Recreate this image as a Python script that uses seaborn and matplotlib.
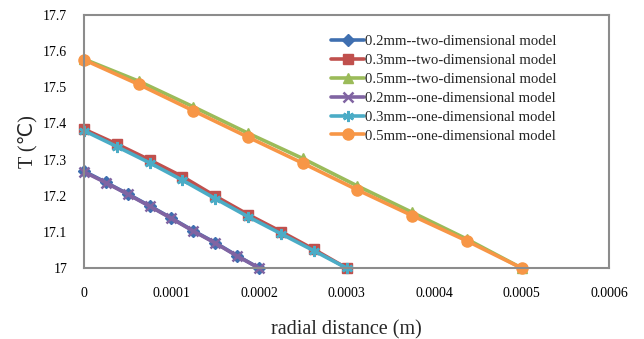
import numpy as np
import pandas as pd
import matplotlib
matplotlib.use("Agg")
import matplotlib.pyplot as plt
import seaborn as sns

sns.set_theme(style="white")
plt.rcParams['font.family'] = ['Liberation Serif', 'DejaVu Serif']

# radial positions (m) for each thickness
x_02 = [0, 0.000025, 0.00005, 0.000075, 0.0001, 0.000125, 0.00015, 0.000175, 0.0002]
x_03 = [0, 0.0000375, 0.000075, 0.0001125, 0.00015, 0.0001875, 0.000225, 0.0002625, 0.0003]
x_05 = [0, 0.0000625, 0.000125, 0.0001875, 0.00025, 0.0003125, 0.000375, 0.0004375, 0.0005]

# temperatures (°C)
t_02_2d = [17.268, 17.237, 17.205, 17.172, 17.138, 17.103, 17.070, 17.034, 17.0]
t_03_2d = [17.384, 17.343, 17.299, 17.253, 17.199, 17.148, 17.101, 17.052, 17.0]
t_05_2d = [17.578, 17.517, 17.446, 17.373, 17.303, 17.227, 17.154, 17.080, 17.0]
t_02_1d = [17.266, 17.236, 17.204, 17.171, 17.137, 17.102, 17.069, 17.033, 17.0]
t_03_1d = [17.380, 17.336, 17.291, 17.243, 17.192, 17.142, 17.095, 17.048, 17.0]
t_05_1d = [17.576, 17.508, 17.435, 17.362, 17.290, 17.216, 17.145, 17.075, 17.0]

labels = [
    "0.2mm--two-dimensional model",
    "0.3mm--two-dimensional model",
    "0.5mm--two-dimensional model",
    "0.2mm--one-dimensional model",
    "0.3mm--one-dimensional model",
    "0.5mm--one-dimensional model",
]
colors = ["#3F6FB0", "#C0504D", "#9BBB59", "#8064A2", "#4BACC6", "#F79646"]
markers = ["D", "s", "^", "x", (6, 2, 0), "o"]
msizes = [6, 7, 7, 7, 8, 8]

xs = [x_02, x_03, x_05, x_02, x_03, x_05]
ts = [t_02_2d, t_03_2d, t_05_2d, t_02_1d, t_03_1d, t_05_1d]

fig = plt.figure(figsize=(6.44, 3.39), dpi=100)
ax = fig.add_axes([0.1304, 0.2094, 0.8153, 0.7464])

for x, t, lab, c, m, ms in zip(xs, ts, labels, colors, markers, msizes):
    df = pd.DataFrame({"r": x, "T": t})
    sns.lineplot(data=df, x="r", y="T", ax=ax, color=c, marker=m,
                 markersize=ms, linewidth=2.6, label=lab,
                 markeredgecolor=c, markeredgewidth=1.8 if m in ("x", (6, 2, 0)) else 1.0,
                 clip_on=False)

ax.set_xlim(0, 0.0006)
ax.set_ylim(17.0, 17.7)
ax.set_xticks([0, 0.0001, 0.0002, 0.0003, 0.0004, 0.0005, 0.0006])
ax.set_xticklabels(["0", "0.0001", "0.0002", "0.0003", "0.0004", "0.0005", "0.0006"])
ax.set_yticks([17.0, 17.1, 17.2, 17.3, 17.4, 17.5, 17.6, 17.7])
ax.set_yticklabels(["17", "17.1", "17.2", "17.3", "17.4", "17.5", "17.6", "17.7"])

for s in ax.spines.values():
    s.set_color("#8C8C8C")
    s.set_linewidth(1.5)

ax.tick_params(axis="both", direction="in", color="#8C8C8C", width=1.2,
               labelsize=10, labelcolor="black")
ax.tick_params(axis="x", length=4, pad=14)
ax.tick_params(axis="y", length=4, pad=12)

ax.set_xlabel("radial distance (m)", fontsize=14.5, labelpad=14)
ax.set_ylabel("T (℃)", fontsize=14.5, labelpad=4, family=['Liberation Serif', 'DejaVu Sans'])

leg = ax.legend(loc="upper left", bbox_to_anchor=(0.46, 0.945), frameon=False,
                fontsize=10.6, handlelength=2.2, handletextpad=0.1,
                labelspacing=0.38, borderaxespad=0)

fig.savefig("out.png", dpi=100)
